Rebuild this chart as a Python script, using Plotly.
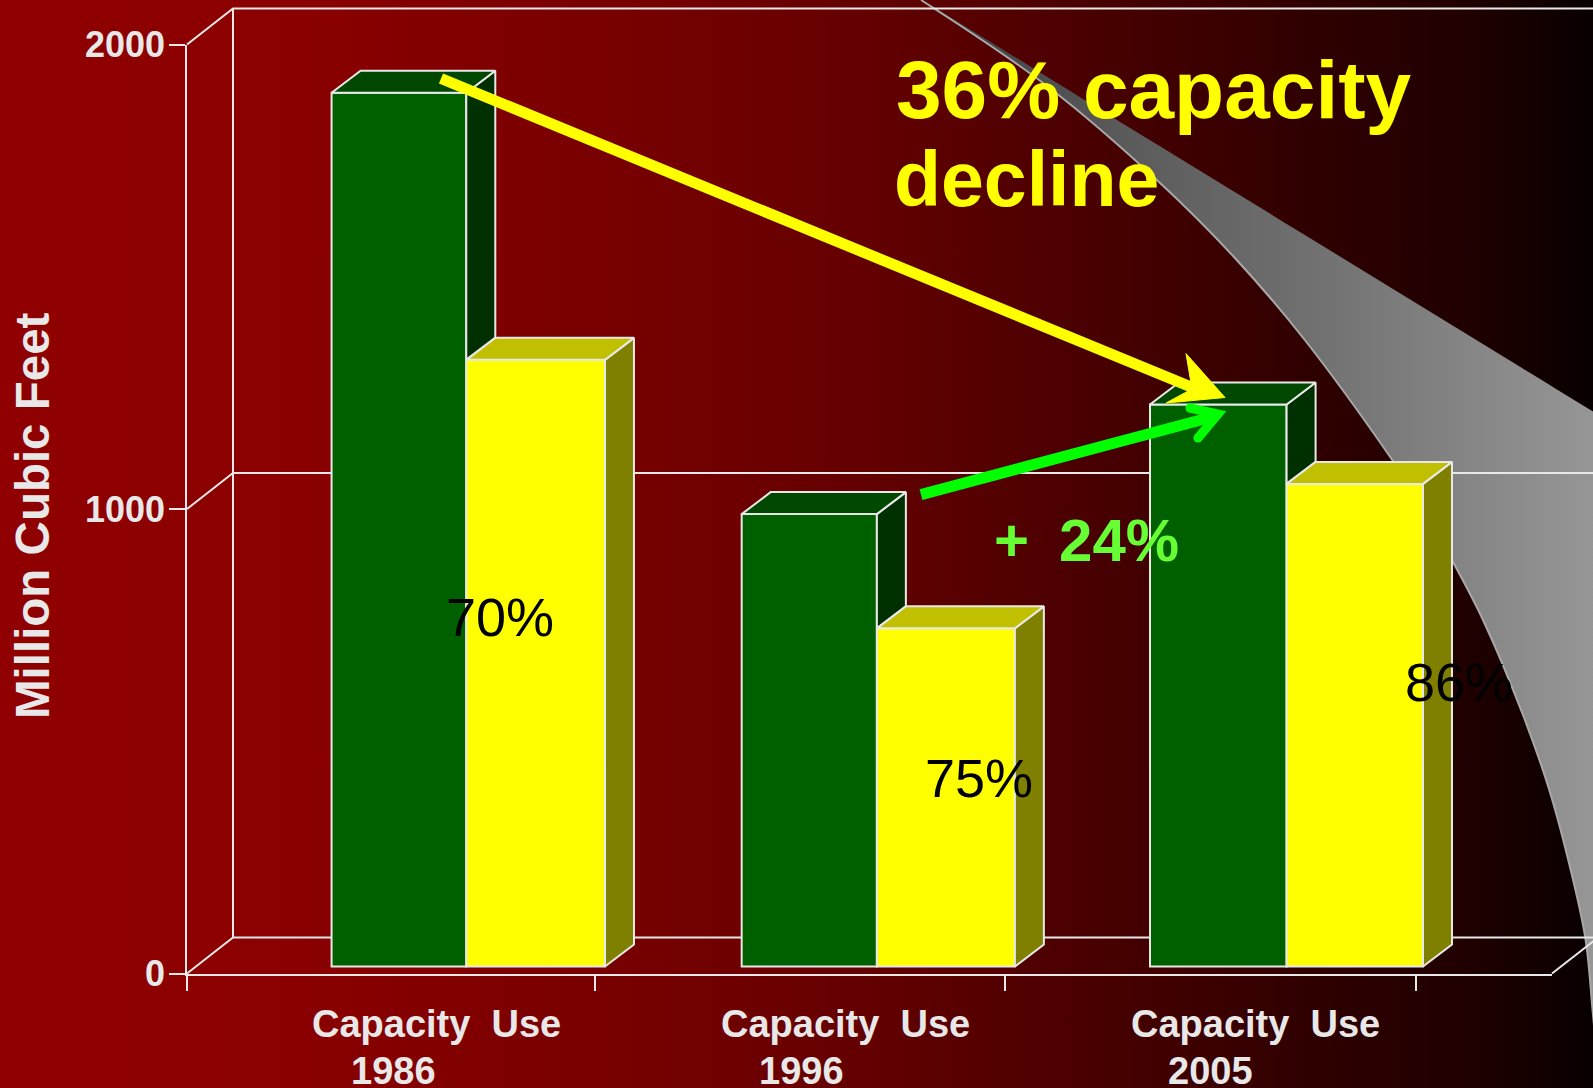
import plotly.graph_objects as go

# ---- data ----
categories = ["Capacity\u00a0\u00a0Use", "Capacity\u00a0\u00a0Use", "Capacity\u00a0\u00a0Use"]
years = ["1986", "1996", "2005"]
capacity = [1881, 974, 1210]      # green bars
use = [1306, 728, 1039]           # yellow bars
use_pct = ["70%", "75%", "86%"]
y_ticks = [0, 1000, 2000]

# ---- page geometry (pixels) ----
W, H = 1593, 1088
PL, PR, PT, PB = 187, 1552, 44.5, 973.5
PX_PER_GROUP = 409.5
PX_PER_UNIT = (PB - PT) / 2000
xmax = (PR - PL) / PX_PER_GROUP

def ux(px):
    return px / PX_PER_GROUP

def uy(px):
    return px / PX_PER_UNIT

WALL_DX, WALL_DY = ux(46), uy(36)
BAR_DX, BAR_DY = ux(29), uy(22)
BASE = uy(7.0)
DIVIDER = [0.682, 0.6847, 0.6852]
GREEN_W = [ux(134.7), ux(135.2), ux(136.6)]
YELLOW_W = [ux(138.7), ux(138), ux(136.4)]

LINE = "#E8E8E8"
GREEN, GREEN_TOP, GREEN_SIDE = "#006000", "#004800", "#003000"
YELLOW, YELLOW_TOP, YELLOW_SIDE = "#FFFF00", "#C0C000", "#808000"

# decoration: background gradient and grey swoosh, in page pixels
bg_stops = [[0, "#900000"], [0.19, "#8A0000"], [0.41, "#750000"], [0.54, "#640000"],
            [0.69, "#480000"], [0.82, "#300000"], [0.92, "#200000"], [0.97, "#120000"], [1, "#080000"]]
sw_upper_x = [921, 1100, 1300, 1500, 1700, 2000]
sw_upper_y = [0, 109.5, 232, 354.5, 477, 660.5]
sw_lower_x = [1612, 1604, 1593, 1585.5, 1569, 1549, 1523, 1483, 1452, 1425, 1393, 1304, 1234, 1159, 1047, 921]
sw_lower_y = [1250, 1130, 1015, 939, 863, 789, 715, 620, 560, 510, 461, 339, 257, 182, 86, 0]
sw_fill_x = sw_upper_x + [2000, 1800] + sw_lower_x
sw_fill_y = sw_upper_y + [1250, 1250] + sw_lower_y

fig = go.Figure()

# --- layer 1: page background + swoosh (axes x/y, page pixels)
fig.add_trace(go.Scatter(x=[0, W, W, 0, 0], y=[0, 0, H, H, 0], mode="lines", fill="toself",
                         line=dict(width=0), hoverinfo="skip", showlegend=False,
                         fillgradient=dict(type="horizontal", colorscale=bg_stops),
                         xaxis="x", yaxis="y"))
fig.add_trace(go.Scatter(x=sw_fill_x, y=sw_fill_y,
                         mode="lines", fill="toself", line=dict(width=0, shape="spline", smoothing=1),
                         hoverinfo="skip", showlegend=False,
                         fillgradient=dict(type="horizontal", start=921, stop=1593,
                                           colorscale=[[0, "#3C3C3C"], [0.3, "#5A5A5A"], [0.6, "#727272"], [1, "#969696"]]),
                         xaxis="x", yaxis="y"))
fig.add_trace(go.Scatter(x=sw_lower_x, y=sw_lower_y, mode="lines",
                         line=dict(color="#A8A8A8", width=2, shape="spline", smoothing=1),
                         hoverinfo="skip", showlegend=False, xaxis="x", yaxis="y"))

# --- layer 2: back walls and gridlines (axes x2/y2 share the chart's scales, spanning the page)
def wall(xs, ys):
    fig.add_trace(go.Scatter(x=xs, y=ys, mode="lines", line=dict(color=LINE, width=2),
                             hoverinfo="skip", showlegend=False, xaxis="x2", yaxis="y2"))

wall([WALL_DX, WALL_DX], [WALL_DY, y_ticks[-1] + WALL_DY])
for v in y_ticks:
    wall([0, WALL_DX, xmax + 2 * WALL_DX], [v, v + WALL_DY, v + WALL_DY])
wall([xmax, xmax + WALL_DX], [0, WALL_DY])

# --- layer 3: bars (axes x3/y3 carry the visible axes)
bar_x = [i + d for i, d in enumerate(DIVIDER)]
fig.add_trace(go.Bar(x=bar_x, y=capacity, base=BASE, width=GREEN_W, offset=[-w for w in GREEN_W],
                     marker=dict(color=GREEN, line=dict(color=LINE, width=2)),
                     cliponaxis=False, showlegend=False, name="Capacity", xaxis="x3", yaxis="y3"))
fig.add_trace(go.Bar(x=bar_x, y=use, base=BASE, width=YELLOW_W, offset=0,
                     marker=dict(color=YELLOW, line=dict(color=LINE, width=2)),
                     cliponaxis=False, showlegend=False, name="Use", xaxis="x3", yaxis="y3"))

def face(xs, ys, color):
    fig.add_trace(go.Scatter(x=xs, y=ys, mode="lines", fill="toself", fillcolor=color,
                             line=dict(color=LINE, width=2), hoverinfo="skip", showlegend=False,
                             cliponaxis=False, xaxis="x3", yaxis="y3"))

for xd, c, u, gw, yw in zip(bar_x, capacity, use, GREEN_W, YELLOW_W):
    gl, yr = xd - gw, xd + yw
    gt, yt = BASE + c, BASE + u
    # green: visible side stops at the yellow top, then top face
    face([xd, xd + BAR_DX, xd + BAR_DX, xd, xd], [gt, gt + BAR_DY, yt + BAR_DY, yt, gt], GREEN_SIDE)
    face([gl, gl + BAR_DX, xd + BAR_DX, xd, gl], [gt, gt + BAR_DY, gt + BAR_DY, gt, gt], GREEN_TOP)
    # yellow: side and top face
    face([yr, yr + BAR_DX, yr + BAR_DX, yr, yr], [yt, yt + BAR_DY, BASE + BAR_DY, BASE, yt], YELLOW_SIDE)
    face([xd, xd + BAR_DX, yr + BAR_DX, yr, xd], [yt, yt + BAR_DY, yt + BAR_DY, yt, yt], YELLOW_TOP)

# --- text
TXT = "#E8E8E8"
FONT = "Liberation Sans"
ann = []

def text(px, py, s, size, color, weight=700, xanchor="center", angle=0):
    ann.append(dict(x=px, y=py, xref="x", yref="y", text=s, showarrow=False, xanchor=xanchor, yanchor="middle",
                    textangle=angle, font=dict(family=FONT, size=size, color=color, weight=weight)))

for i, (c, y) in enumerate(zip(categories, years)):
    text(436 + i * 409.5, 1024, c, 38, TXT)
    text(393 + i * 408.5, 1071, y, 38, TXT)
text(32, 516, "Million Cubic Feet", 47.5, TXT, angle=-90)
text(894, 89, "36% capacity", 82, "#FFFF00", xanchor="left")
text(892, 179, "decline", 77, "#FFFF00", xanchor="left")
text(1086, 540, "+\u2002" + "24%", 60, "#66FF33")
for px, py, s in zip([500, 979, 1459], [617, 778, 682], use_pct):
    text(px, py, s, 54, "#000000", weight=400)

# --- arrows on top of the bars, page pixels
shapes = [
    dict(type="line", xref="x", yref="y", x0=441, y0=78.5, x1=1196, y1=389,
         line=dict(color="#FFFF00", width=11)),
    dict(type="path", xref="x", yref="y", path="M 1225 397.5 L 1186 353.6 L 1192 389 L 1166 403 Z",
         fillcolor="#FFFF00", line=dict(color="#FFFF00", width=1)),
    dict(type="line", xref="x", yref="y", x0=921, y0=494.6, x1=1212, y1=417,
         line=dict(color="#00FF00", width=11)),
    dict(type="path", xref="x", yref="y", path="M 1190 408 L 1218 414 L 1198 438",
         line=dict(color="#00FF00", width=9), fillcolor="rgba(0,0,0,0)"),
    dict(type="circle", xref="x", yref="y", x0=1185.5, x1=1194.5, y0=403.5, y1=412.5,
         fillcolor="#00FF00", line=dict(width=0)),
    dict(type="circle", xref="x", yref="y", x0=1193.5, x1=1202.5, y0=433.5, y1=442.5,
         fillcolor="#00FF00", line=dict(width=0)),
]

hidden = dict(visible=False, showgrid=False, zeroline=False, fixedrange=True, automargin=False)
dx = [PL / W, PR / W]
dy = [(H - PB) / H, (H - PT) / H]

fig.update_layout(
    template="none",
    width=W, height=H, autosize=False,
    margin=dict(l=0, r=0, t=0, b=0, pad=0),
    paper_bgcolor="#500000", plot_bgcolor="rgba(0,0,0,0)",
    showlegend=False, barmode="overlay",
    annotations=ann, shapes=shapes,
    xaxis=dict(hidden, domain=[0, 1], range=[0, W], anchor="y"),
    yaxis=dict(hidden, domain=[0, 1], range=[H, 0], anchor="x"),
    xaxis2=dict(hidden, domain=[0, 1], range=[ux(-PL), ux(W - PL)], anchor="y2"),
    yaxis2=dict(hidden, domain=[0, 1], range=[uy(PB - H), uy(PB)], anchor="x2"),
    xaxis3=dict(domain=dx, range=[0, xmax], anchor="y3", showgrid=False, zeroline=False, automargin=False,
                showline=True, linecolor=LINE, linewidth=2,
                tickmode="array", tickvals=[0, 0.996, 1.997, 3], showticklabels=False,
                ticks="outside", ticklen=15, tickcolor=LINE, tickwidth=1.5),
    yaxis3=dict(domain=dy, range=[0, 2000], anchor="x3", showgrid=False, zeroline=False, automargin=False,
                showline=True, linecolor=LINE, linewidth=1.5,
                tickmode="array", tickvals=y_ticks, ticktext=[str(v) for v in y_ticks],
                ticks="outside", ticklen=16, tickcolor=LINE, tickwidth=1.5, ticklabelstandoff=-3,
                tickfont=dict(family=FONT, size=36, color=TXT, weight=700)),
)

fig.write_html("out.html", config={"displayModeBar": False},
               post_script="document.body.style.margin='0';document.documentElement.style.overflow='hidden';")
